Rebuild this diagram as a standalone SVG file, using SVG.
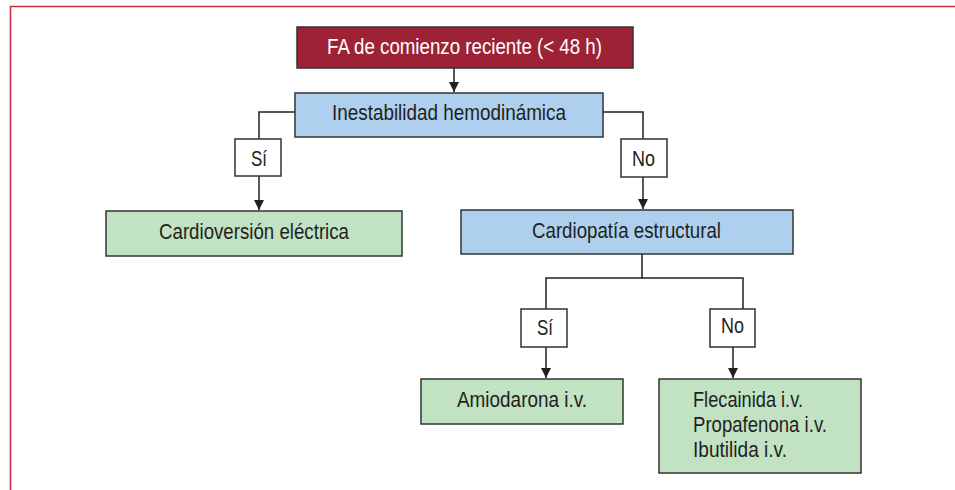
<svg xmlns="http://www.w3.org/2000/svg" width="955" height="490" viewBox="0 0 955 490">
<defs>
<style>
.box{stroke:#333;stroke-width:1.5}
.red{fill:#9e2235}
.blue{fill:#aecfee}
.green{fill:#c2e2c4}
.lab{fill:#fff}
text{font-family:"Liberation Sans",Arial,sans-serif;font-size:22px;fill:#231f20}
.w{fill:#fff}
.con{fill:none;stroke:#231f20;stroke-width:1.5}
</style>
<marker id="ah" viewBox="0 0 10 10" refX="10" refY="5" markerWidth="10" markerHeight="10" markerUnits="userSpaceOnUse" orient="auto">
<path d="M0,0 L10,5 L0,10 Z" fill="#231f20"/>
</marker>
</defs>
<rect width="955" height="490" fill="#fff"/>
<path d="M10.5,490 V6.5 H955" fill="none" stroke="#c8304a" stroke-width="1.6"/>
<g id="connectors">
<path class="con" d="M454,68 V92" marker-end="url(#ah)"/>
<path class="con" d="M295,112 H259 V139"/>
<path class="con" d="M259,176 V210" marker-end="url(#ah)"/>
<path class="con" d="M603,112 H643 V139"/>
<path class="con" d="M643,177 V209" marker-end="url(#ah)"/>
<path class="con" d="M642,254 V278 M546,309 V278 H743 V309"/>
<path class="con" d="M546,347 V378" marker-end="url(#ah)"/>
<path class="con" d="M733,347 V378" marker-end="url(#ah)"/>
</g>
<g id="n_fa"><rect class="box red" x="297" y="27" width="336" height="41"/><text class="w" x="327" y="54" textLength="275" lengthAdjust="spacingAndGlyphs">FA de comienzo reciente (&lt; 48 h)</text></g>
<g id="n_inest"><rect class="box blue" x="295" y="93" width="308" height="44"/><text x="332" y="120" textLength="234" lengthAdjust="spacingAndGlyphs">Inestabilidad hemodinámica</text></g>
<g id="n_si1"><rect class="box lab" x="235" y="139" width="46" height="37"/><text x="251" y="166" textLength="16" lengthAdjust="spacingAndGlyphs">Sí</text></g>
<g id="n_no1"><rect class="box lab" x="621" y="139" width="46" height="38"/><text x="632" y="166" textLength="23" lengthAdjust="spacingAndGlyphs">No</text></g>
<g id="n_cardiov"><rect class="box green" x="106" y="211" width="296" height="45"/><text x="159" y="239" textLength="190" lengthAdjust="spacingAndGlyphs">Cardioversión eléctrica</text></g>
<g id="n_cardiop"><rect class="box blue" x="461" y="210" width="332" height="44"/><text x="532" y="238" textLength="189" lengthAdjust="spacingAndGlyphs">Cardiopatía estructural</text></g>
<g id="n_si2"><rect class="box lab" x="521" y="309" width="46" height="38"/><text x="537" y="335" textLength="16" lengthAdjust="spacingAndGlyphs">Sí</text></g>
<g id="n_no2"><rect class="box lab" x="710" y="309" width="45" height="38"/><text x="721" y="333" textLength="23" lengthAdjust="spacingAndGlyphs">No</text></g>
<g id="n_amio"><rect class="box green" x="421" y="379" width="202" height="45"/><text x="457" y="407" textLength="130" lengthAdjust="spacingAndGlyphs">Amiodarona i.v.</text></g>
<g id="n_fle"><rect class="box green" x="659" y="379" width="202" height="94"/><text x="693" y="407" textLength="110" lengthAdjust="spacingAndGlyphs">Flecainida i.v.</text><text x="693" y="432" textLength="134" lengthAdjust="spacingAndGlyphs">Propafenona i.v.</text><text x="693" y="457" textLength="94" lengthAdjust="spacingAndGlyphs">Ibutilida i.v.</text></g>
</svg>
